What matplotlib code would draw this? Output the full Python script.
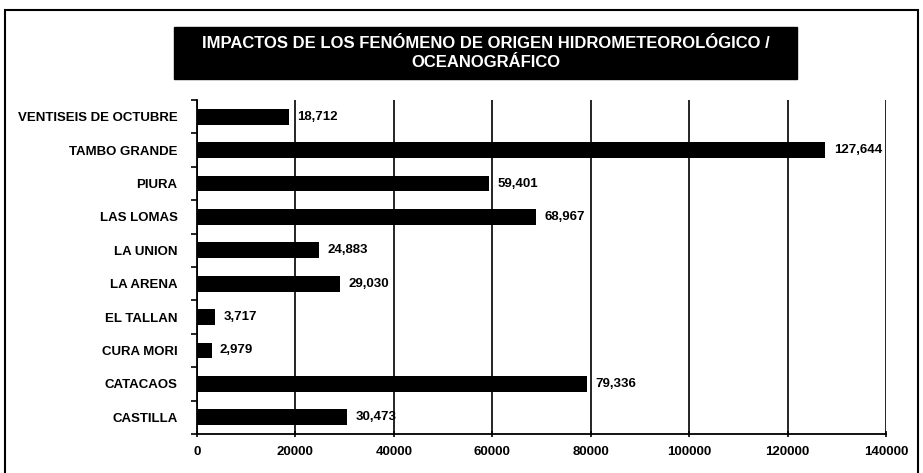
import matplotlib.pyplot as plt
from matplotlib.patches import Rectangle

# distritos (de abajo hacia arriba) y afectados
districts = ['CASTILLA', 'CATACAOS', 'CURA MORI', 'EL TALLAN', 'LA ARENA',
             'LA UNION', 'LAS LOMAS', 'PIURA', 'TAMBO GRANDE', 'VENTISEIS DE OCTUBRE']
values = [30473, 79336, 2979, 3717, 29030, 24883, 68967, 59401, 127644, 18712]
x_ticks = [0, 20000, 40000, 60000, 80000, 100000, 120000, 140000]

plt.rcParams['font.family'] = ['Liberation Sans', 'DejaVu Sans']

fig = plt.figure(figsize=(9.23, 4.73), dpi=100)
ax = fig.add_axes([0.2134, 0.0825, 0.7466, 0.706])

y = range(len(districts))
ax.barh(y, values, height=0.47, color='black', zorder=3)

for yi, v in zip(y, values):
    ax.text(v + 1700, yi, f'{v:,}', va='center', ha='left',
            fontsize=9.5, fontweight='bold', zorder=4)

ax.set_xlim(0, 140000)
ax.set_ylim(-0.5, len(districts) - 0.5)
ax.set_xticks(x_ticks)
ax.set_xticklabels([str(t) for t in x_ticks], fontsize=9.5, fontweight='bold')
ax.set_yticks(list(y))
ax.set_yticklabels(districts, fontsize=9.5, fontweight='bold')
ax.tick_params(axis='y', length=0, pad=14)
ax.set_yticks([i + 0.5 for i in range(-1, len(districts))], minor=True)
ax.tick_params(axis='y', which='minor', length=4, width=1.2, direction='out')
ax.tick_params(axis='x', length=5, width=1.2, direction='inout', pad=6)

ax.grid(axis='x', color='black', linewidth=1.2, zorder=1)
ax.spines['top'].set_visible(False)
ax.spines['right'].set_visible(False)
ax.spines['left'].set_linewidth(1.3)
ax.spines['bottom'].set_linewidth(1.3)

# marco exterior
fig.patches.append(Rectangle((5 / 923, -0.05), 913 / 923, 1.05 - 10 / 473,
                             transform=fig.transFigure, fill=False,
                             edgecolor='black', linewidth=1.5))

# titulo en caja negra
fig.patches.append(Rectangle((0.1885, 0.833), 0.675, 0.11,
                             transform=fig.transFigure, facecolor='black',
                             edgecolor='black'))
fig.text(0.526, 0.888, 'IMPACTOS DE LOS FENÓMENO DE ORIGEN HIDROMETEOROLÓGICO /\nOCEANOGRÁFICO',
         ha='center', va='center', color='white', fontsize=12,
         fontweight='bold', linespacing=1.35)

plt.savefig('out.png', dpi=100, facecolor='white')
